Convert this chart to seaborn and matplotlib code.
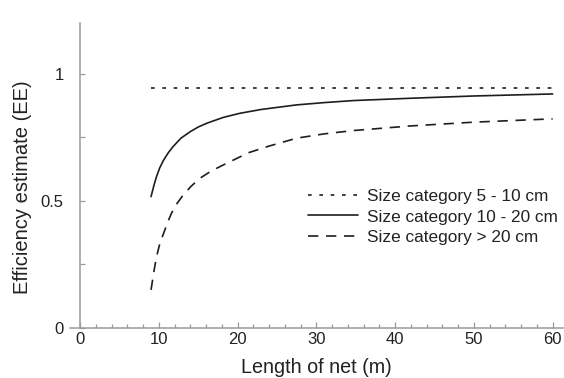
import numpy as np
import pandas as pd
import matplotlib
matplotlib.use("Agg")
import matplotlib.pyplot as plt
import seaborn as sns
from matplotlib.ticker import MultipleLocator

# ---- data ----
categories = ["Size category 5 - 10 cm", "Size category 10 - 20 cm", "Size category > 20 cm"]

length_small = [9.0, 60.0]
ee_small = [0.945, 0.945]

length_mid = [9.0, 9.4, 9.7, 10.1, 10.6, 11.2, 11.8, 12.8, 14.0, 15.0, 16.1, 18.2,
              20.3, 23.0, 27.5, 31.0, 34.7, 41.9, 50.0, 60.0]
ee_mid = [0.517, 0.565, 0.596, 0.630, 0.661, 0.690, 0.714, 0.747, 0.773, 0.791, 0.806, 0.829,
          0.845, 0.860, 0.878, 0.887, 0.895, 0.904, 0.913, 0.921]

length_large = [9.0, 9.35, 9.7, 10.1, 10.6, 11.1, 11.6, 12.3, 13.1, 14.1, 15.2, 16.6, 18.2,
                21.4, 24.0, 27.5, 31.0, 34.7, 41.9, 50.0, 60.0]
ee_large = [0.150, 0.220, 0.281, 0.330, 0.373, 0.415, 0.452, 0.490, 0.524, 0.558, 0.589, 0.617, 0.642,
            0.690, 0.716, 0.747, 0.764, 0.777, 0.795, 0.810, 0.823]

x_ticks = [0, 10, 20, 30, 40, 50, 60]
y_ticks = [0, 0.5, 1]
y_tick_labels = ["0", "0.5", "1"]

df = pd.concat([
    pd.DataFrame({"length": length_small, "ee": ee_small, "cat": categories[0]}),
    pd.DataFrame({"length": length_mid, "ee": ee_mid, "cat": categories[1]}),
    pd.DataFrame({"length": length_large, "ee": ee_large, "cat": categories[2]}),
], ignore_index=True)

sns.set_style("ticks")
plt.rcParams["font.family"] = ["Liberation Sans", "DejaVu Sans"]

fig = plt.figure(figsize=(5.64, 3.78), dpi=100)
ax = fig.add_axes([0.124, 0.1323, 0.874, 0.8067])

dashes = {categories[0]: (2.2, 4.6), categories[1]: "", categories[2]: (6.2, 4.6)}
palette = {c: "#1e1e1e" for c in categories}
sns.lineplot(data=df, x="length", y="ee", hue="cat", style="cat", dashes=dashes,
             palette=palette, hue_order=categories, style_order=categories,
             linewidth=1.2, ax=ax, sort=False, estimator=None)

ax.set_xlim(-1.3, 61.3)
ax.set_ylim(0, 1.2)

spine_col = "#9a9a9a"
for s in ["top", "right"]:
    ax.spines[s].set_visible(False)
ax.spines["left"].set_position(("data", 0))
ax.spines["left"].set_color(spine_col)
ax.spines["bottom"].set_color(spine_col)
ax.spines["left"].set_linewidth(1.1)
ax.spines["bottom"].set_linewidth(1.1)

ax.set_xticks(x_ticks)
ax.set_xticklabels([str(t) for t in x_ticks])
ax.xaxis.set_minor_locator(MultipleLocator(2))
ax.set_yticks(y_ticks)
ax.set_yticklabels(y_tick_labels)
ax.yaxis.set_minor_locator(MultipleLocator(0.25))

ax.tick_params(axis="x", which="major", direction="in", length=4.5, width=0.9, color=spine_col,
               labelsize=12, labelcolor="#222222", pad=3)
ax.tick_params(axis="x", which="minor", direction="in", length=3, width=0.9, color=spine_col)
ax.tick_params(axis="y", which="both", direction="in", length=3.8, width=0.9, color=spine_col,
               labelsize=12, labelcolor="#222222", pad=12)

ax.set_xlabel("Length of net (m)", fontsize=14.2, color="#222222")
ax.set_ylabel("Efficiency estimate (EE)", fontsize=14.5, color="#222222")
ax.xaxis.set_label_coords(0.5, -0.097)
ax.yaxis.set_label_coords(-0.077, 0.462)

handles, labels = ax.get_legend_handles_labels()
ax.legend(handles, labels, loc="center left", bbox_to_anchor=(0.483, 0.364), frameon=False,
          fontsize=12.4, handlelength=2.9, handletextpad=0.52, labelspacing=0.33,
          borderpad=0, borderaxespad=0, labelcolor="#222222")

fig.savefig("out.png", dpi=100, facecolor="white")
